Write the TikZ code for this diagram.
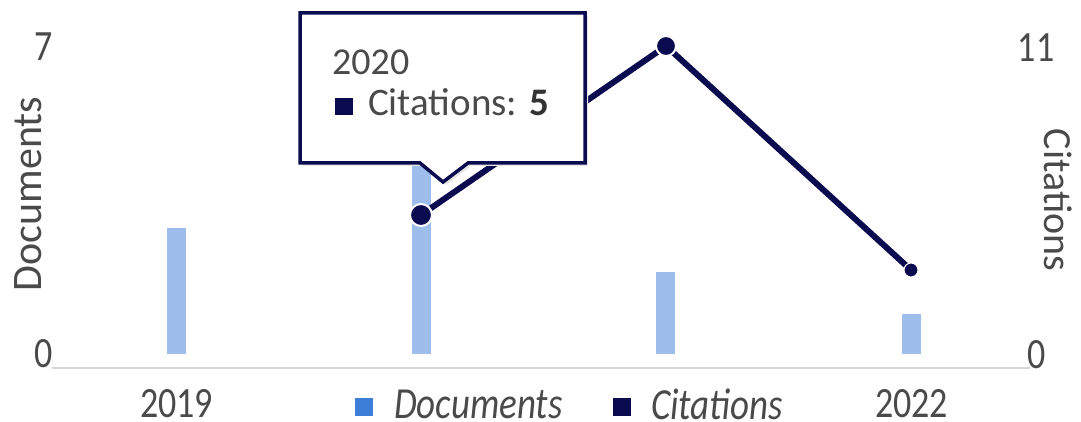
\documentclass[tikz,border=0pt]{standalone}
\usepackage{fontspec}
\setmainfont{Carlito}
\definecolor{navy}{HTML}{0B0C50}
\definecolor{barblue}{HTML}{9DBDEB}
\definecolor{legblue}{HTML}{3D7FD6}
\definecolor{txtgray}{HTML}{4A4A4A}
\definecolor{axisgray}{HTML}{D3D7DD}
\newcommand{\tallt}[1]{\scalebox{1}[1.2]{#1}}
\begin{document}
\begin{tikzpicture}[x=1pt,y=-1pt,
  lbl/.style={text=txtgray, inner sep=0pt},
  bar/.style={fill=barblue, draw=none, inner sep=0pt, minimum width=19pt, anchor=south},
  mk/.style={circle, fill=navy, draw=white, inner sep=0pt},
  legsq/.style={inner sep=0pt, minimum size=18pt},
  fs/.style={font=\fontsize{#1}{#1}\selectfont}]
\fill[white] (0,0) rectangle (1081,422);
\useasboundingbox (0,0) rectangle (1081,422);
% axis line
\coordinate (axl) at (52,368);
\coordinate (axr) at (1030,368);
\draw[axisgray, line width=2pt] (axl) -- (axr);
% bars
\node[bar, minimum height=126pt] (b19) at (176.5,354) {};
\node[bar, minimum height=218pt] (b20) at (421.5,354) {};
\node[bar, minimum height=82pt] (b21) at (665.5,354) {};
\node[bar, minimum height=40pt] (b22) at (911.5,354) {};
% citations line
\coordinate (p20) at (421,215);
\coordinate (p21) at (666,46);
\coordinate (p22) at (911,270);
\draw[navy, line width=6pt, line join=round] (p20) -- (p21) -- (p22);
\node[mk, line width=2pt, minimum size=22pt] (c20) at (p20) {};
\node[mk, line width=2pt, minimum size=20pt] (c21) at (p21) {};
\node[mk, line width=1pt, minimum size=14pt] (c22) at (p22) {};
% tooltip
\fill[black!10] (303,16) -- (588,16) -- (588,166) -- (471,166) -- (446,185) -- (423,166) -- (303,166) -- cycle;
\draw[navy, line width=3.5pt, fill=white, line join=miter] (300,13) -- (585,13) -- (585,163) -- (468,163) -- (443,182) -- (420,163) -- (300,163) -- cycle;
\node[lbl, fs=38, anchor=base west] (tyear) at (332,75) {2020};
\node[legsq, fill=navy, minimum width=18pt, minimum height=17pt] (tsq) at (344,106.5) {};
\node[lbl, fs=39, anchor=base west] (tcit) at (368,116) {Citations: \textbf{\color{black!80}5}};
% axis labels
\node[lbl, fs=36] (y7) at (44,46.5) {\tallt{7}};
\node[lbl, fs=36] (y0) at (44,354) {\tallt{0}};
\node[lbl, fs=36] (y11) at (1036,47.5) {\tallt{11}};
\node[lbl, fs=36] (yc0) at (1037,355) {\tallt{0}};
\node[lbl, fs=42, rotate=90] (ydoc) at (28,194) {Documents};
\node[lbl, fs=40, rotate=-90] (ycit) at (1058,200) {Citations};
% x labels
\node[lbl, fs=36] (x19) at (176.5,404) {\tallt{2019}};
\node[lbl, fs=36] (x22) at (911.5,404) {\tallt{2022}};
% legend
\node[legsq, fill=legblue] (lsq1) at (364,406.5) {};
\node[lbl, fs=37, anchor=west] (ldoc) at (394,404) {\tallt{\itshape Documents}};
\node[legsq, fill=navy] (lsq2) at (622,406.5) {};
\node[lbl, fs=37, anchor=west] (lcit) at (651,404) {\tallt{\itshape Citations}};
\end{tikzpicture}
\end{document}
